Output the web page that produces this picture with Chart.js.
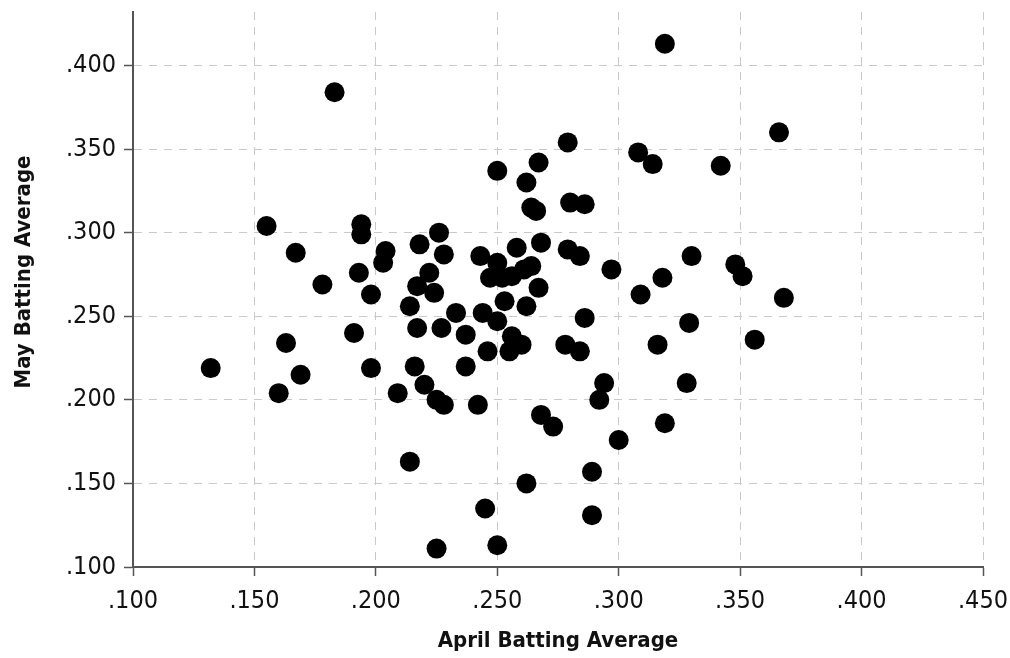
<!DOCTYPE html>
<html>
<head>
<meta charset="utf-8">
<script src="https://cdn.jsdelivr.net/npm/chart.js@4.4.1/dist/chart.umd.min.js"></script>
<style>
  html, body { margin: 0; padding: 0; background: #fff; }
  #wrap { width: 1010px; height: 658px; }
</style>
</head>
<body>
<div id="wrap"><canvas id="scatter" width="1010" height="658"></canvas></div>
<script>
// april vs may batting averages, one entry per player
const aprilAvg = [
  .132, .163, .169, .160, .155, .167, .178, .183, .191, .193,
  .194, .194, .198, .198, .203, .204, .209, .214, .214, .216,
  .217, .217, .218, .220, .222, .224, .226, .225, .228, .227,
  .228, .225, .233, .237, .237, .242, .243, .244, .245, .246,
  .247, .250, .250, .250, .250, .253, .255, .256, .256, .258,
  .260, .261, .262, .262, .262, .264, .264, .266, .267, .268,
  .267, .268, .273, .278, .279, .279, .280, .284, .284, .286,
  .286, .289, .289, .292, .294, .297, .300, .308, .309, .314,
  .316, .318, .319, .319, .328, .329, .330, .342, .348, .351,
  .356, .366, .368, .252
];
const mayAvg = [
  .219, .234, .215, .204, .304, .288, .269, .384, .240, .276,
  .305, .299, .263, .219, .282, .289, .204, .256, .163, .220,
  .268, .243, .293, .209, .276, .264, .300, .200, .287, .243,
  .197, .111, .252, .239, .220, .197, .286, .252, .135, .229,
  .273, .282, .337, .247, .113, .259, .229, .274, .238, .291,
  .233, .278, .256, .330, .150, .280, .315, .313, .342, .294,
  .267, .191, .184, .233, .354, .290, .318, .286, .229, .317,
  .249, .157, .131, .200, .210, .278, .176, .348, .263, .341,
  .233, .273, .186, .413, .210, .246, .286, .340, .281, .274,
  .236, .360, .261, .273
];
const xTicks = [.100, .150, .200, .250, .300, .350, .400, .450];
const yTicks = [.100, .150, .200, .250, .300, .350, .400];
const xTitle = "April Batting Average";
const yTitle = "May Batting Average";

const points = aprilAvg.map((a, i) => ({ x: a, y: mayAvg[i] }));

const fmt = v => v.toFixed(3).replace(/^0/, "");
const keepTicks = list => scale => {
  scale.ticks = list.map(v => ({ value: v }));
};

const family = "'DejaVu Sans Condensed', 'DejaVu Sans', sans-serif";
const tickFont = { family: family, size: 25 };
const titleFont = { family: family, size: 22, weight: "bold" };
const gridOpts = { color: "#c9c9c9", lineWidth: 1, tickColor: "#555", tickLength: 9, tickWidth: 1.5 };

// y title sits a bit above the middle of the plot in the original, so draw it by hand
const yTitlePlugin = {
  id: "yTitle",
  afterDraw(chart) {
    const ctx = chart.ctx;
    ctx.save();
    ctx.translate(24, 272);
    ctx.rotate(-Math.PI / 2);
    ctx.font = "bold 22px " + family;
    ctx.fillStyle = "#111";
    ctx.textAlign = "center";
    ctx.textBaseline = "middle";
    ctx.fillText(yTitle, 0, 0);
    ctx.restore();
  }
};

new Chart(document.getElementById("scatter"), {
  type: "scatter",
  data: {
    datasets: [{
      data: points,
      backgroundColor: "#000",
      borderWidth: 0,
      pointRadius: 10,
      pointHoverRadius: 10
    }]
  },
  options: {
    responsive: false,
    animation: false,
    devicePixelRatio: 1,
    layout: { padding: { left: 0, right: 27, top: 12, bottom: 0 } },
    plugins: { legend: { display: false }, tooltip: { enabled: false } },
    scales: {
      x: {
        type: "linear",
        min: .100,
        max: .450,
        afterBuildTicks: keepTicks(xTicks),
        afterFit: s => { s.height = 91; s.paddingLeft = 0; s.paddingRight = 0; },
        grid: gridOpts,
        border: { color: "#555", width: 2, dash: [8, 7] },
        ticks: { color: "#111", font: tickFont, padding: 10, callback: v => fmt(v) },
        title: { display: true, text: xTitle, color: "#111", font: titleFont, padding: { top: 0, bottom: 4 } }
      },
      y: {
        type: "linear",
        min: .100,
        max: .432,
        afterBuildTicks: keepTicks(yTicks),
        afterFit: s => { s.width = 133; s.paddingTop = 0; s.paddingBottom = 0; },
        grid: gridOpts,
        border: { color: "#555", width: 2, dash: [8, 7] },
        ticks: { color: "#111", font: tickFont, padding: 8, callback: v => fmt(v) },
        title: { display: false }
      }
    }
  },
  plugins: [yTitlePlugin]
});
</script>
</body>
</html>
